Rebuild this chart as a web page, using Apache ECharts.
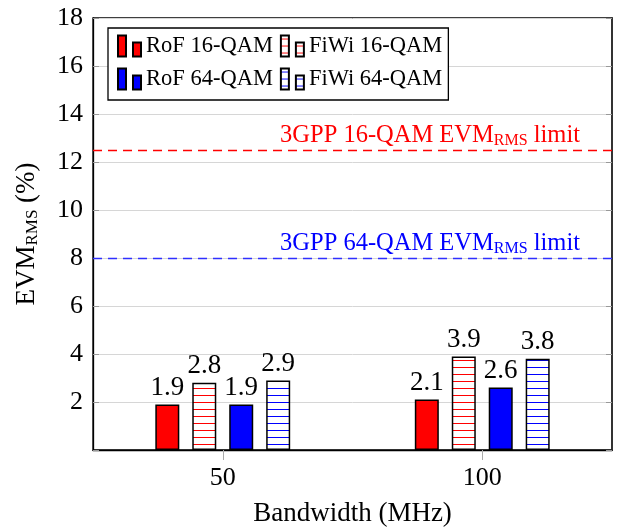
<!DOCTYPE html>
<html>
<head>
<meta charset="utf-8">
<script src="https://cdn.jsdelivr.net/npm/echarts@6/dist/echarts.min.js"></script>
<style>
  html, body { margin: 0; padding: 0; background: #fff; }
  #chart { width: 618px; height: 529px; }
</style>
</head>
<body>
<div id="chart"></div>
<script>
// Bandwidth groups and EVM values (%) per scheme
const categories = ['50', '100'];
const rof16 = [1.9, 2.1];
const fiwi16 = [2.8, 3.9];
const rof64 = [1.9, 2.6];
const fiwi64 = [2.9, 3.8];
const seriesNames = ['RoF 16-QAM', 'FiWi 16-QAM', 'RoF 64-QAM', 'FiWi 64-QAM'];
// 3GPP EVM limits
const limit16 = 12.5;
const limit64 = 8;
const yMin = 0, yMax = 18, yStep = 2;

const FONT = '"Liberation Serif", "DejaVu Serif", serif';

// horizontal-line hatch used for the FiWi bars
function hatch(color) {
  const c = document.createElement('canvas');
  c.width = 8; c.height = 7;
  const ctx = c.getContext('2d');
  ctx.fillStyle = '#ffffff';
  ctx.fillRect(0, 0, 8, 7);
  ctx.fillStyle = color;
  ctx.fillRect(0, 3, 8, 1);
  return { image: c, repeat: 'repeat' };
}

const barIcon = 'path://M0,0h8v21h-8z M15,7h8v14h-8z';

function barSeries(name, data, fill) {
  return {
    name: name,
    type: 'bar',
    data: data,
    barWidth: 24,
    barGap: '54%',
    itemStyle: { color: fill, borderColor: '#000', borderWidth: 1.5 },
    label: {
      show: true, position: 'top', distance: 3,
      fontFamily: FONT, fontSize: 27, color: '#000',
      formatter: p => p.value.toFixed(1)
    }
  };
}

function limitLine(value, text, lineColor, textColor) {
  return {
    yAxis: value,
    lineStyle: { color: lineColor, type: [9, 6], width: 1.3 },
    label: {
      show: true, position: 'insideEndTop', distance: [32, 1],
      formatter: '{a|' + text + ' EVM}{s|RMS}{a| limit}',
      color: textColor,
      rich: {
        a: { fontFamily: FONT, fontSize: 24.5, color: textColor, lineHeight: 26 },
        s: { fontFamily: FONT, fontSize: 16, color: textColor, verticalAlign: 'bottom', lineHeight: 16 }
      }
    }
  };
}

const chart = echarts.init(document.getElementById('chart'), null, { renderer: 'canvas' });

const s1 = barSeries(seriesNames[0], rof16, '#ff0000');
s1.markLine = {
  silent: true, symbol: 'none',
  data: [
    limitLine(limit16, '3GPP 16-QAM', '#ff0000', '#ff0000'),
    limitLine(limit64, '3GPP 64-QAM', '#2f2fff', '#0000ff')
  ]
};

const option = {
  animation: false,
  backgroundColor: '#fff',
  grid: {
    left: 93, right: 6, top: 18, bottom: 79,
    outerBoundsMode: 'none',
    containLabel: false,
    show: true, borderColor: '#000', borderWidth: 1.3
  },
  legend: {
    left: 108, top: 28,
    width: 336,
    padding: [5, 6, 8, 9],
    borderColor: '#000', borderWidth: 1.3,
    backgroundColor: '#fff',
    itemWidth: 23, itemHeight: 21, itemGap: 7,
    icon: barIcon,
    textStyle: { fontFamily: FONT, fontSize: 22.5, color: '#000', lineHeight: 26 },
    data: seriesNames
  },
  xAxis: {
    type: 'category',
    data: categories,
    boundaryGap: true,
    axisLine: { lineStyle: { color: '#000', width: 1.3 } },
    axisTick: { show: true, alignWithLabel: true, interval: 0, length: 10, lineStyle: { color: '#aaa' } },
    axisLabel: { fontFamily: FONT, fontSize: 26, color: '#000', margin: 15 },
    name: 'Bandwidth (MHz)',
    nameLocation: 'middle',
    nameGap: 50,
    nameTextStyle: { fontFamily: FONT, fontSize: 27, color: '#000' }
  },
  yAxis: [
    {
      type: 'value',
      min: yMin, max: yMax, interval: yStep,
      axisLine: { show: true, lineStyle: { color: '#000', width: 1.3 } },
      axisTick: { show: true, inside: true, length: 6, lineStyle: { color: '#999' } },
      splitLine: { show: true, lineStyle: { color: '#d6d6d6', width: 1 } },
      axisLabel: {
        fontFamily: FONT, fontSize: 26, color: '#000', margin: 10,
        formatter: v => (v === 0 ? '' : String(v))
      },
      name: '{a|EVM}{s|RMS}{a| (%)}',
      nameLocation: 'middle',
      nameGap: 52,
      nameRotate: 90,
      nameTextStyle: {
        rich: {
          a: { fontFamily: FONT, fontSize: 27, color: '#000', lineHeight: 28 },
          s: { fontFamily: FONT, fontSize: 17, color: '#000', verticalAlign: 'bottom', lineHeight: 17 }
        }
      }
    },
    {
      type: 'value', position: 'right',
      min: yMin, max: yMax, interval: yStep,
      axisLine: { show: true, lineStyle: { color: '#333', width: 2 } },
      axisTick: { show: true, inside: true, length: 6, lineStyle: { color: '#999' } },
      splitLine: { show: false },
      axisLabel: { show: false }
    }
  ],
  series: [
    s1,
    barSeries(seriesNames[1], fiwi16, hatch('#ff0000')),
    barSeries(seriesNames[2], rof64, '#0000ff'),
    barSeries(seriesNames[3], fiwi64, hatch('#0000ff'))
  ]
};

chart.setOption(option);
</script>
</body>
</html>
